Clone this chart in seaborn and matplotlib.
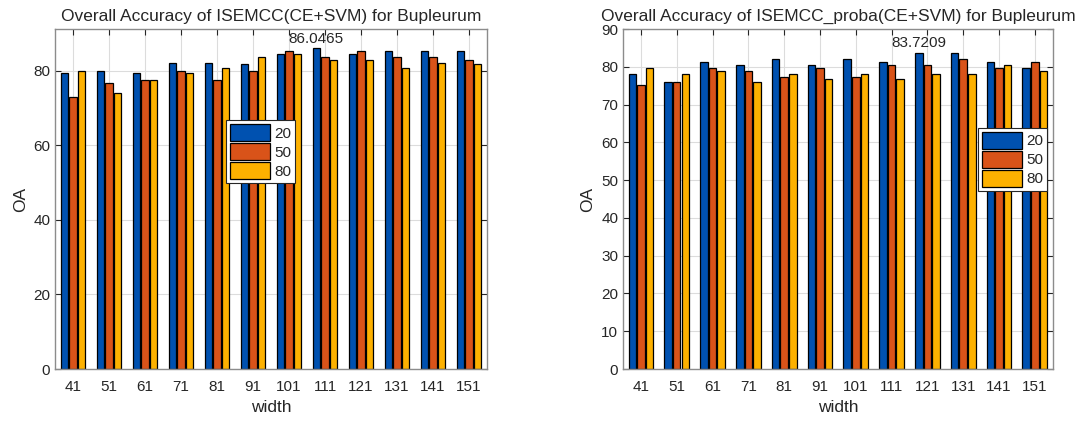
import matplotlib.pyplot as plt
import seaborn as sns
import pandas as pd
import numpy as np

# Style
sns.set_style("whitegrid")
plt.rcParams['font.family'] = ['Liberation Sans', 'DejaVu Sans']

widths = [41, 51, 61, 71, 81, 91, 101, 111, 121, 131, 141, 151]
series = ['20', '50', '80']
colors = ['#0051b0', '#d95319', '#fdb100']

# ISEMCC(CE+SVM)
oa_left_20 = [79.3, 80.0, 79.3, 82.2, 82.2, 81.7, 84.6, 86.0465, 84.6, 85.4, 85.4, 85.4]
oa_left_50 = [73.0, 76.8, 77.6, 80.0, 77.6, 80.0, 85.4, 83.8, 85.4, 83.8, 83.8, 83.0]
oa_left_80 = [80.0, 74.0, 77.6, 79.3, 80.8, 83.8, 84.6, 83.0, 83.0, 80.8, 82.2, 81.7]

# ISEMCC_proba(CE+SVM)
oa_right_20 = [78.1, 75.9, 81.3, 80.5, 82.1, 80.5, 82.1, 81.3, 83.7209, 83.7, 81.3, 79.7]
oa_right_50 = [75.1, 75.9, 79.7, 78.9, 77.3, 79.7, 77.3, 80.5, 80.5, 82.1, 79.7, 81.3]
oa_right_80 = [79.7, 78.1, 78.9, 75.9, 78.1, 76.8, 78.1, 76.8, 78.1, 78.1, 80.5, 78.9]


def to_frame(s20, s50, s80):
    rows = []
    for vals, name in zip([s20, s50, s80], series):
        for w, v in zip(widths, vals):
            rows.append({'width': str(w), 'size': name, 'OA': v})
    return pd.DataFrame(rows)


def draw(ax, df, title, ylim, yticks, legend_anchor):
    sns.barplot(data=df, x='width', y='OA', hue='size', order=[str(w) for w in widths],
                hue_order=series, palette=colors, width=0.72, gap=0.12,
                edgecolor='black', linewidth=0.9, saturation=1, ax=ax)
    ax.set_ylim(*ylim)
    ax.set_yticks(yticks)
    ax.set_xlim(-0.5, len(widths) - 0.5)
    ax.set_title(title, fontsize=12.5, color='#262626', pad=6)
    ax.set_xlabel('width', fontsize=12.5, color='#262626')
    ax.set_ylabel('OA', fontsize=12.5, color='#262626')
    ax.tick_params(labelsize=11, colors='#262626', direction='in', length=4,
                   top=True, right=True, bottom=True, left=True)
    ax.tick_params(axis='x', pad=8)
    ax.grid(True, color='#dcdcdc', linewidth=0.8)
    ax.set_axisbelow(True)
    for sp in ax.spines.values():
        sp.set_color('#8c8c8c')
        sp.set_linewidth(1.0)
    # label the tallest bar
    bars = [p for p in ax.patches if p.get_height() > 0]
    best = max(bars, key=lambda p: p.get_height())
    ax.text(best.get_x() + best.get_width() / 2, best.get_height() + 0.6,
            f'{best.get_height():g}', ha='center', va='bottom', fontsize=11, color='#262626')
    leg = ax.legend(loc='upper left', bbox_to_anchor=legend_anchor, fontsize=11,
                    frameon=True, fancybox=False, edgecolor='#262626', framealpha=1,
                    handlelength=2.6, handleheight=1.35, labelspacing=0.12,
                    borderpad=0.25, handletextpad=0.3, borderaxespad=0)
    leg.get_frame().set_linewidth(0.8)


fig = plt.figure(figsize=(10.88, 4.21), dpi=100)
ax1 = fig.add_axes([0.0506, 0.1235, 0.397, 0.8076])
ax2 = fig.add_axes([0.5726, 0.1235, 0.395, 0.8076])

draw(ax1, to_frame(oa_left_20, oa_left_50, oa_left_80),
     'Overall Accuracy of ISEMCC(CE+SVM) for Bupleurum',
     (0, 91.2), [0, 20, 40, 60, 80], (0.396, 0.732))
draw(ax2, to_frame(oa_right_20, oa_right_50, oa_right_80),
     'Overall Accuracy of ISEMCC_proba(CE+SVM) for Bupleurum',
     (0, 90), list(range(0, 91, 10)), (0.826, 0.709))

fig.savefig('out.png', dpi=100)
plt.close(fig)
